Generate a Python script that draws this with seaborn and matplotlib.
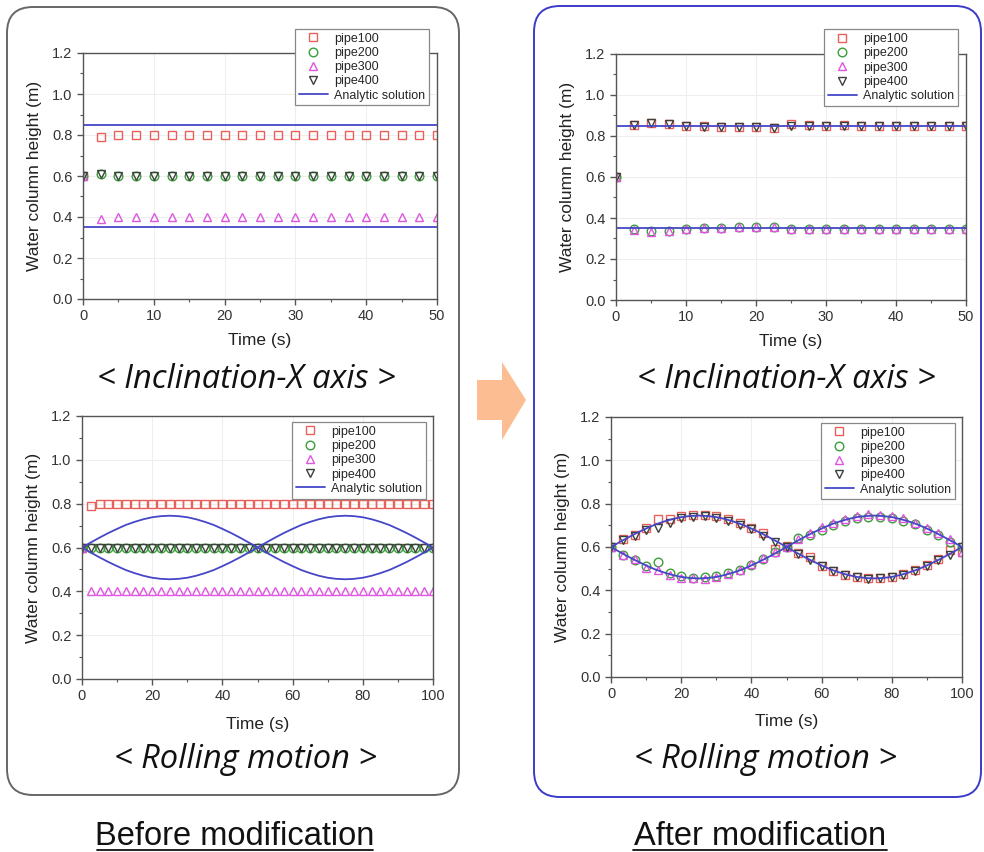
import matplotlib
matplotlib.use("Agg")
import matplotlib.pyplot as plt
import seaborn as sns
import numpy as np
import pandas as pd
from matplotlib.patches import FancyBboxPatch, Polygon
from matplotlib.lines import Line2D
from matplotlib.ticker import MultipleLocator, FormatStrFormatter

# ---------------- data ----------------
series_names = ["pipe100", "pipe200", "pipe300", "pipe400"]
analytic_label = "Analytic solution"

# Inclination-X axis (0-50 s)
t_incl = [0, 2.5, 5, 7.5, 10, 12.5, 15, 17.5, 20, 22.5, 25, 27.5, 30, 32.5, 35, 37.5, 40, 42.5, 45, 47.5, 50]
# before modification
b_incl_pipe100 = [0.60, 0.79, 0.80, 0.80, 0.80, 0.80, 0.80, 0.80, 0.80, 0.80, 0.80, 0.80, 0.80, 0.80, 0.80, 0.80, 0.80, 0.80, 0.80, 0.80, 0.80]
b_incl_pipe200 = [0.60, 0.61, 0.60, 0.60, 0.60, 0.60, 0.60, 0.60, 0.60, 0.60, 0.60, 0.60, 0.60, 0.60, 0.60, 0.60, 0.60, 0.60, 0.60, 0.60, 0.60]
b_incl_pipe300 = [0.60, 0.39, 0.40, 0.40, 0.40, 0.40, 0.40, 0.40, 0.40, 0.40, 0.40, 0.40, 0.40, 0.40, 0.40, 0.40, 0.40, 0.40, 0.40, 0.40, 0.40]
b_incl_pipe400 = [0.60, 0.61, 0.60, 0.60, 0.60, 0.60, 0.60, 0.60, 0.60, 0.60, 0.60, 0.60, 0.60, 0.60, 0.60, 0.60, 0.60, 0.60, 0.60, 0.60, 0.60]
# after modification
a_incl_pipe100 = [0.60, 0.855, 0.865, 0.860, 0.850, 0.848, 0.845, 0.843, 0.843, 0.840, 0.857, 0.852, 0.850, 0.852, 0.850, 0.850, 0.850, 0.850, 0.850, 0.850, 0.850]
a_incl_pipe200 = [0.60, 0.345, 0.335, 0.338, 0.348, 0.350, 0.352, 0.355, 0.357, 0.357, 0.348, 0.347, 0.347, 0.348, 0.348, 0.348, 0.348, 0.348, 0.348, 0.348, 0.348]
a_incl_pipe300 = [0.60, 0.343, 0.333, 0.336, 0.347, 0.350, 0.353, 0.356, 0.356, 0.358, 0.346, 0.346, 0.347, 0.347, 0.348, 0.348, 0.348, 0.348, 0.348, 0.348, 0.348]
a_incl_pipe400 = [0.60, 0.853, 0.862, 0.858, 0.848, 0.846, 0.843, 0.842, 0.842, 0.838, 0.848, 0.851, 0.850, 0.851, 0.849, 0.849, 0.849, 0.849, 0.849, 0.850, 0.850]
incl_analytic_t = [0, 50]
incl_analytic_high = [0.85, 0.85]
incl_analytic_low = [0.35, 0.35]

# Rolling motion (0-100 s)
t_roll_before = [0, 2.5, 5, 7.5, 10, 12.5, 15, 17.5, 20, 22.5, 25, 27.5, 30, 32.5, 35, 37.5, 40, 42.5, 45, 47.5,
                 50, 52.5, 55, 57.5, 60, 62.5, 65, 67.5, 70, 72.5, 75, 77.5, 80, 82.5, 85, 87.5, 90, 92.5, 95, 97.5, 100]
b_roll_pipe100 = [0.60, 0.79, 0.80, 0.80, 0.80, 0.80, 0.80, 0.80, 0.80, 0.80, 0.80, 0.80, 0.80, 0.80, 0.80, 0.80, 0.80, 0.80, 0.80, 0.80,
                  0.80, 0.80, 0.80, 0.80, 0.80, 0.80, 0.80, 0.80, 0.80, 0.80, 0.80, 0.80, 0.80, 0.80, 0.80, 0.80, 0.80, 0.80, 0.80, 0.80, 0.80]
b_roll_pipe200 = [0.60, 0.60, 0.60, 0.60, 0.60, 0.60, 0.60, 0.60, 0.60, 0.60, 0.60, 0.60, 0.60, 0.60, 0.60, 0.60, 0.60, 0.60, 0.60, 0.60,
                  0.60, 0.60, 0.60, 0.60, 0.60, 0.60, 0.60, 0.60, 0.60, 0.60, 0.60, 0.60, 0.60, 0.60, 0.60, 0.60, 0.60, 0.60, 0.60, 0.60, 0.60]
b_roll_pipe300 = [0.60, 0.40, 0.40, 0.40, 0.40, 0.40, 0.40, 0.40, 0.40, 0.40, 0.40, 0.40, 0.40, 0.40, 0.40, 0.40, 0.40, 0.40, 0.40, 0.40,
                  0.40, 0.40, 0.40, 0.40, 0.40, 0.40, 0.40, 0.40, 0.40, 0.40, 0.40, 0.40, 0.40, 0.40, 0.40, 0.40, 0.40, 0.40, 0.40, 0.40, 0.40]
b_roll_pipe400 = [0.60, 0.60, 0.60, 0.60, 0.60, 0.60, 0.60, 0.60, 0.60, 0.60, 0.60, 0.60, 0.60, 0.60, 0.60, 0.60, 0.60, 0.60, 0.60, 0.60,
                  0.60, 0.60, 0.60, 0.60, 0.60, 0.60, 0.60, 0.60, 0.60, 0.60, 0.60, 0.60, 0.60, 0.60, 0.60, 0.60, 0.60, 0.60, 0.60, 0.60, 0.60]
roll_analytic_t = t_roll_before
roll_analytic_high = [0.600, 0.623, 0.645, 0.666, 0.685, 0.703, 0.717, 0.729, 0.738, 0.743, 0.745, 0.743, 0.738, 0.729, 0.717, 0.703,
                      0.685, 0.666, 0.645, 0.623, 0.600, 0.577, 0.555, 0.534, 0.515, 0.497, 0.483, 0.471, 0.462, 0.457, 0.455,
                      0.457, 0.462, 0.471, 0.483, 0.497, 0.515, 0.534, 0.555, 0.577, 0.600]
roll_analytic_low = [0.600, 0.577, 0.555, 0.534, 0.515, 0.497, 0.483, 0.471, 0.462, 0.457, 0.455, 0.457, 0.462, 0.471, 0.483, 0.497,
                     0.515, 0.534, 0.555, 0.577, 0.600, 0.623, 0.645, 0.666, 0.685, 0.703, 0.717, 0.729, 0.738, 0.743, 0.745,
                     0.743, 0.738, 0.729, 0.717, 0.703, 0.685, 0.666, 0.645, 0.623, 0.600]

t_roll_after = [0, 3.3, 6.7, 10, 13.3, 16.7, 20, 23.3, 26.7, 30, 33.3, 36.7, 40, 43.3, 46.7, 50,
                53.3, 56.7, 60, 63.3, 66.7, 70, 73.3, 76.7, 80, 83.3, 86.7, 90, 93.3, 96.7, 100]
a_roll_pipe100 = [0.600, 0.635, 0.655, 0.690, 0.728, 0.728, 0.742, 0.748, 0.750, 0.745, 0.730, 0.712, 0.690, 0.665, 0.590, 0.605,
                  0.572, 0.555, 0.512, 0.490, 0.472, 0.462, 0.455, 0.458, 0.462, 0.476, 0.493, 0.518, 0.545, 0.588, 0.578]
a_roll_pipe200 = [0.600, 0.565, 0.540, 0.512, 0.530, 0.478, 0.465, 0.458, 0.460, 0.465, 0.478, 0.495, 0.518, 0.545, 0.575, 0.598,
                  0.640, 0.655, 0.680, 0.702, 0.722, 0.735, 0.740, 0.738, 0.732, 0.722, 0.705, 0.680, 0.655, 0.625, 0.598]
a_roll_pipe300 = [0.600, 0.562, 0.545, 0.505, 0.495, 0.470, 0.458, 0.455, 0.452, 0.460, 0.475, 0.495, 0.520, 0.548, 0.578, 0.600,
                  0.635, 0.665, 0.692, 0.712, 0.730, 0.745, 0.752, 0.750, 0.745, 0.732, 0.712, 0.690, 0.665, 0.635, 0.575]
a_roll_pipe400 = [0.600, 0.632, 0.652, 0.680, 0.690, 0.712, 0.732, 0.740, 0.742, 0.732, 0.720, 0.702, 0.682, 0.652, 0.625, 0.598,
                  0.568, 0.540, 0.513, 0.490, 0.472, 0.460, 0.452, 0.455, 0.460, 0.472, 0.490, 0.512, 0.538, 0.565, 0.598]

y_ticks = [0.0, 0.2, 0.4, 0.6, 0.8, 1.0, 1.2]
x_ticks_incl = [0, 10, 20, 30, 40, 50]
x_ticks_roll = [0, 20, 40, 60, 80, 100]

captions_top = "< Inclination-X axis >"
captions_bottom = "< Rolling motion >"
title_before = "Before modification"
title_after = "After modification"
x_label = "Time (s)"
y_label = "Water column height (m)"

# ---------------- style ----------------
sns.set_theme(style="white")
plt.rcParams["font.family"] = ["Liberation Sans", "DejaVu Sans"]
plt.rcParams["axes.unicode_minus"] = False

colors = {"pipe100": "#E8605A", "pipe200": "#3A9E3A", "pipe300": "#E055E0", "pipe400": "#3A403A"}
markers = {"pipe100": "s", "pipe200": "o", "pipe300": "^", "pipe400": "v"}
analytic_color = "#4646C8"

W, H = 984, 852
fig = plt.figure(figsize=(W / 100, H / 100), dpi=100)
fig.patch.set_facecolor("white")

def rect(l, t, r, b):
    return [l / W, 1 - b / H, (r - l) / W, (b - t) / H]

# Rounded panels and arrow (decoration)
fig.add_artist(FancyBboxPatch((0.07, 0.57), 4.52, 7.88, boxstyle="round,pad=0,rounding_size=0.26",
                              transform=fig.dpi_scale_trans, facecolor="none", edgecolor="#666666", lw=1.4))
fig.add_artist(FancyBboxPatch((5.34, 0.55), 4.47, 7.91, boxstyle="round,pad=0,rounding_size=0.26",
                              transform=fig.dpi_scale_trans, facecolor="none", edgecolor="#3B3BC9", lw=1.4))
arrow_pts = [(4.77, 4.72), (5.02, 4.72), (5.02, 4.90), (5.26, 4.52), (5.02, 4.12), (5.02, 4.32), (4.77, 4.32)]
fig.add_artist(Polygon(arrow_pts, closed=True, transform=fig.dpi_scale_trans, facecolor="#FDBD92", edgecolor="none"))


def draw_panel(ax, t, series, at, ahigh, alow, xmax, xticks, xminor, legend_anchor, xlabelpad):
    for name, vals in zip(series_names, series):
        df = pd.DataFrame({"t": t, "h": vals})
        sns.lineplot(data=df, x="t", y="h", ax=ax, estimator=None, sort=False, linestyle="",
                     marker=markers[name], markersize=6.2, markerfacecolor="none",
                     markeredgecolor=colors[name], markeredgewidth=1.0, color=colors[name],
                     label=name, legend=False)
    dfa = pd.DataFrame({"t": at, "hi": ahigh, "lo": alow})
    sns.lineplot(data=dfa, x="t", y="hi", ax=ax, estimator=None, sort=False, color=analytic_color,
                 lw=1.3, label=analytic_label, legend=False)
    sns.lineplot(data=dfa, x="t", y="lo", ax=ax, estimator=None, sort=False, color=analytic_color,
                 lw=1.3, label="_nolegend_", legend=False)
    ax.set_xlim(0, xmax)
    ax.set_ylim(0, 1.2)
    ax.set_xticks(xticks)
    ax.set_yticks(y_ticks)
    ax.xaxis.set_minor_locator(MultipleLocator(xminor))
    ax.yaxis.set_minor_locator(MultipleLocator(0.1))
    ax.yaxis.set_major_formatter(FormatStrFormatter("%.1f"))
    ax.tick_params(which="major", direction="out", length=4, width=1, colors="#555555",
                   labelcolor="#333333", labelsize=10.5, bottom=True, left=True, top=False, right=False, pad=3.5)
    ax.tick_params(which="minor", direction="out", length=2, width=0.8, colors="#555555",
                   bottom=True, left=True, top=False, right=False)
    ax.grid(True, which="major", color="#eeeeee", lw=0.8)
    for sp in ax.spines.values():
        sp.set_color("#555555")
        sp.set_linewidth(1.0)
    ax.set_xlabel(x_label, fontsize=12.5, color="#222222", labelpad=xlabelpad)
    ax.set_ylabel(y_label, fontsize=12.5, color="#222222", labelpad=7)
    leg = ax.legend(loc="upper right", bbox_to_anchor=legend_anchor, fontsize=9, frameon=True, fancybox=False,
                    framealpha=1, edgecolor="#888888", labelspacing=0.18, handlelength=2.3, handletextpad=0.5,
                    borderpad=0.3, borderaxespad=0)
    leg.get_frame().set_linewidth(0.9)
    leg.set_zorder(10)


ax1 = fig.add_axes(rect(83, 53, 437, 299))
draw_panel(ax1, t_incl, [b_incl_pipe100, b_incl_pipe200, b_incl_pipe300, b_incl_pipe400],
           incl_analytic_t, incl_analytic_high, incl_analytic_low, 50, x_ticks_incl, 5, (0.977, 1.098), 7)

ax2 = fig.add_axes(rect(616, 54, 966, 300))
draw_panel(ax2, t_incl, [a_incl_pipe100, a_incl_pipe200, a_incl_pipe300, a_incl_pipe400],
           incl_analytic_t, incl_analytic_high, incl_analytic_low, 50, x_ticks_incl, 5, (0.977, 1.10), 7)

ax3 = fig.add_axes(rect(82, 416, 433, 679))
draw_panel(ax3, t_roll_before, [b_roll_pipe100, b_roll_pipe200, b_roll_pipe300, b_roll_pipe400],
           roll_analytic_t, roll_analytic_high, roll_analytic_low, 100, x_ticks_roll, 10, (0.98, 0.977), 10)

ax4 = fig.add_axes(rect(611, 417, 962, 677))
draw_panel(ax4, t_roll_after, [a_roll_pipe100, a_roll_pipe200, a_roll_pipe300, a_roll_pipe400],
           roll_analytic_t, roll_analytic_high, roll_analytic_low, 100, x_ticks_roll, 10, (0.98, 0.977), 9)

# Captions
cap_font = dict(family=["Open Sans", "DejaVu Sans"], style="italic", fontsize=23.5, color="#111111",
                ha="center", va="center")
fig.text(246 / W, 1 - 379 / H, captions_top, **cap_font)
fig.text(786 / W, 1 - 380 / H, captions_top, **cap_font)
fig.text(246 / W, 1 - 760 / H, captions_bottom, **cap_font)
fig.text(765 / W, 1 - 760 / H, captions_bottom, **cap_font)

tit_font = dict(family=["Liberation Sans", "DejaVu Sans"], fontsize=23.5,
                color="#111111", ha="center", va="baseline")
fig.text(235 / W, 1 - 845 / H, title_before, **tit_font)
fig.text(760 / W, 1 - 845 / H, title_after, **tit_font)
fig.add_artist(Line2D([97 / W, 373 / W], [1 - 849.5 / H, 1 - 849.5 / H], transform=fig.transFigure, color="#111111", lw=1.3))
fig.add_artist(Line2D([633 / W, 887 / W], [1 - 849.5 / H, 1 - 849.5 / H], transform=fig.transFigure, color="#111111", lw=1.3))

fig.savefig("out.png", dpi=100, facecolor="white")
